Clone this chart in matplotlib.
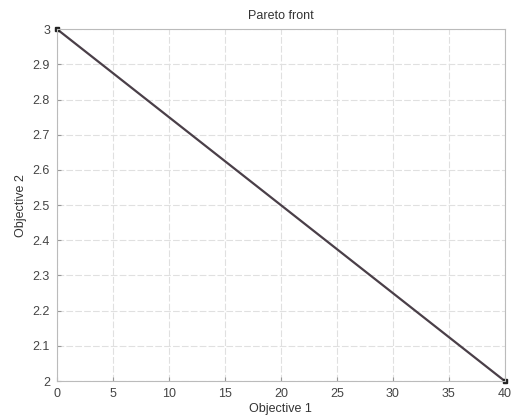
import matplotlib
matplotlib.use("Agg")
import matplotlib.pyplot as plt

obj1 = [0, 40]
obj2 = [3, 2]
xticks = [0, 5, 10, 15, 20, 25, 30, 35, 40]
yticks = [2, 2.1, 2.2, 2.3, 2.4, 2.5, 2.6, 2.7, 2.8, 2.9, 3]
ytick_labels = ["2", "2.1", "2.2", "2.3", "2.4", "2.5", "2.6", "2.7", "2.8", "2.9", "3"]

plt.rcParams['font.family'] = ['Liberation Sans', 'DejaVu Sans']
fig = plt.figure(figsize=(5.13, 4.16), dpi=100)
ax = fig.add_axes([0.111, 0.084, 0.873, 0.846])
ax.plot(obj1, obj2, color='#4a3f48', lw=1.6, marker='s', ms=3.5, mfc='#222222', mec='#222222', clip_on=False)
ax.set_xlim(0, 40)
ax.set_ylim(2, 3)
ax.set_xticks(xticks)
ax.set_yticks(yticks)
ax.set_yticklabels(ytick_labels)
ax.grid(True, color='#e0e0e0', lw=0.8, ls=(0, (6, 2)))
ax.tick_params(direction='in', length=3, labelsize=9, colors='#999999', labelcolor='#444444', pad=5)
for s in ax.spines.values():
    s.set_color('#bbbbbb')
    s.set_linewidth(0.8)
ax.set_title("Pareto front", fontsize=9, color='#333333', pad=7)
ax.set_xlabel("Objective 1", fontsize=9, color='#333333', labelpad=2)
ax.set_ylabel("Objective 2", fontsize=9, color='#333333', labelpad=4)
fig.savefig("out.png", dpi=100)
